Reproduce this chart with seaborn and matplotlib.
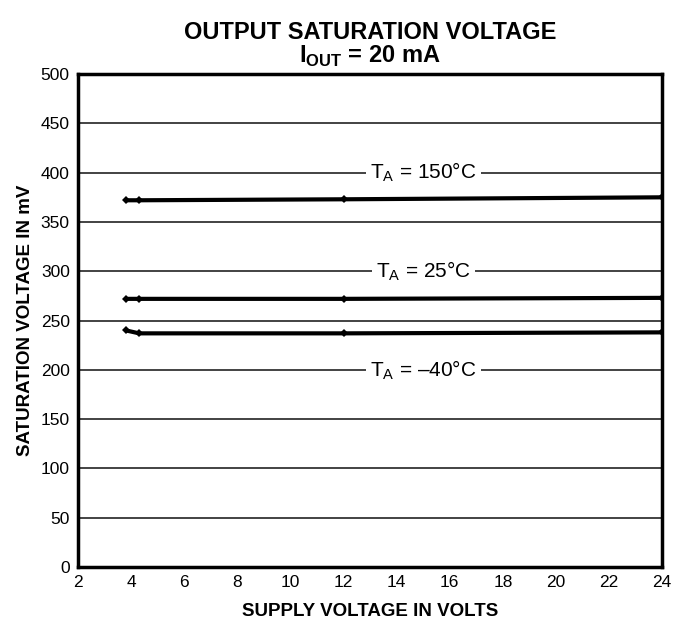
import numpy as np
import pandas as pd
import seaborn as sns
import matplotlib.pyplot as plt

# supply voltage points (V)
vsupply = [3.8, 4.3, 12, 24]
# saturation voltage (mV) per temperature
sat_150 = [372, 372, 373, 375]
sat_25 = [272, 272, 272, 273]
sat_m40 = [240, 237, 237, 238]
temps = ["150", "25", "-40"]
label_text = [r"T$_\mathregular{A}$ = 150°C", r"T$_\mathregular{A}$ = 25°C", r"T$_\mathregular{A}$ = –40°C"]
label_y = [400, 300, 200]

df = pd.DataFrame({
    "V": vsupply * 3,
    "mV": sat_150 + sat_25 + sat_m40,
    "T": [t for t in temps for _ in vsupply],
})

sns.set_style("white")
plt.rcParams["font.family"] = ["Liberation Sans", "DejaVu Sans"]
plt.rcParams["mathtext.fontset"] = "custom"
plt.rcParams["mathtext.rm"] = "Liberation Sans"
plt.rcParams["mathtext.bf"] = "Liberation Sans:bold"
for k in ["text.color", "axes.labelcolor", "xtick.color", "ytick.color"]:
    plt.rcParams[k] = "black"

fig = plt.figure(figsize=(6.73, 6.2), dpi=100)
ax = fig.add_axes([0.116, 0.0855, 0.868, 0.795])

for y in range(50, 500, 50):
    ax.axhline(y, color="#222222", lw=1.2, zorder=1)

sns.lineplot(data=df, x="V", y="mV", hue="T", palette=["black"] * 3,
             marker="D", markersize=4.5, markeredgewidth=0, lw=3,
             legend=False, ax=ax, zorder=3)

for txt, y in zip(label_text, label_y):
    ax.text(15, y, txt, ha="center", va="center", fontsize=15,
            bbox=dict(facecolor="white", edgecolor="none", pad=3), zorder=2)

ax.set_xlim(2, 24)
ax.set_ylim(0, 500)
ax.set_xticks(range(2, 25, 2))
ax.set_yticks(range(0, 501, 50))
ax.tick_params(labelsize=12.5, length=0, pad=6)
for s in ax.spines.values():
    s.set_linewidth(2.5)
    s.set_color("black")

ax.set_xlabel("SUPPLY VOLTAGE IN VOLTS", fontsize=13.5, fontweight="bold", labelpad=9)
ax.set_ylabel("SATURATION VOLTAGE IN mV", fontsize=13.5, fontweight="bold", labelpad=5)
ax.set_title("OUTPUT SATURATION VOLTAGE\n" + r"I$_\mathbf{OUT}$ = 20 mA",
             fontsize=17, fontweight="bold", pad=8, linespacing=1.0)

fig.savefig("out.png", dpi=100)
